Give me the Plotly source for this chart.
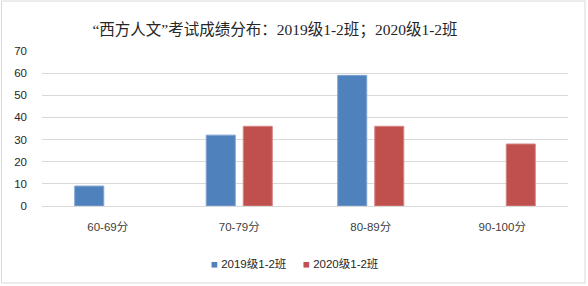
import plotly.graph_objects as go

categories = ["60-69分", "70-79分", "80-89分", "90-100分"]
series_2019 = [9, 32, 59, None]
series_2020 = [None, 36, 36, 28]
name_2019 = "2019级1-2班"
name_2020 = "2020级1-2班"
color_2019 = "#4F81BD"
color_2020 = "#C0504D"
title_text = "“西方人文”考试成绩分布：2019级1-2班；2020级1-2班"
y_ticks = [0, 10, 20, 30, 40, 50, 60, 70]

W, H = 588, 286
L, R, T, B = 42, 20, 51, 80

fig = go.Figure()
fig.add_trace(go.Bar(x=categories, y=series_2019, name=name_2019,
                     marker=dict(color=color_2019, line=dict(color="#7FA3D1", width=1))))
fig.add_trace(go.Bar(x=categories, y=series_2020, name=name_2020,
                     marker=dict(color=color_2020, line=dict(color="#D48583", width=1))))

pw = W - L - R
ph = H - T - B
def px_x(p):
    return (p - L) / pw
def px_y(p):
    return (H - B - p) / ph

legend_font = dict(family="Liberation Sans, Noto Sans CJK SC", size=11.5, color="#262626")
annotations = [
    dict(text=f"<span style='color:{color_2019}'>■</span> {name_2019}", xref="paper", yref="paper",
         x=px_x(209), y=px_y(264), xanchor="left", yanchor="middle", showarrow=False, font=legend_font),
    dict(text=f"<span style='color:{color_2020}'>■</span> {name_2020}", xref="paper", yref="paper",
         x=px_x(301), y=px_y(264), xanchor="left", yanchor="middle", showarrow=False, font=legend_font),
]

fig.update_layout(
    width=W, height=H,
    margin=dict(l=L, r=R, t=T, b=B, pad=0),
    paper_bgcolor="white", plot_bgcolor="white",
    barmode="group", bargap=0.437, bargroupgap=0.216,
    title=dict(text=title_text, x=275 / W, xanchor="center", xref="container",
               y=1 - 30 / H, yanchor="middle", yref="container",
               font=dict(family="Liberation Serif, Noto Sans CJK SC", size=15.5, color="#262626")),
    font=dict(family="Liberation Sans, Noto Sans CJK SC", size=11.5, color="#404040"),
    xaxis=dict(showgrid=False, showline=False, ticks="", ticklabelstandoff=12,
               tickfont=dict(size=11.5, color="#404040")),
    yaxis=dict(range=[0, 70], tickvals=y_ticks, showgrid=True, gridcolor="#D9D9D9",
               gridwidth=1, zeroline=True, zerolinecolor="#D9D9D9", zerolinewidth=1,
               showline=False, ticks="", ticklabelstandoff=14,
               tickfont=dict(size=11.5, color="#262626")),
    showlegend=False,
    annotations=annotations,
    shapes=[dict(type="rect", xref="paper", yref="paper",
                 x0=px_x(1.5), x1=px_x(585), y0=px_y(283), y1=px_y(1),
                 line=dict(color="#D9D9D9", width=1), fillcolor="rgba(0,0,0,0)", layer="below")],
)

fig.write_html("out.html", config={"displayModeBar": False},
               post_script="document.body.style.margin='0';")
